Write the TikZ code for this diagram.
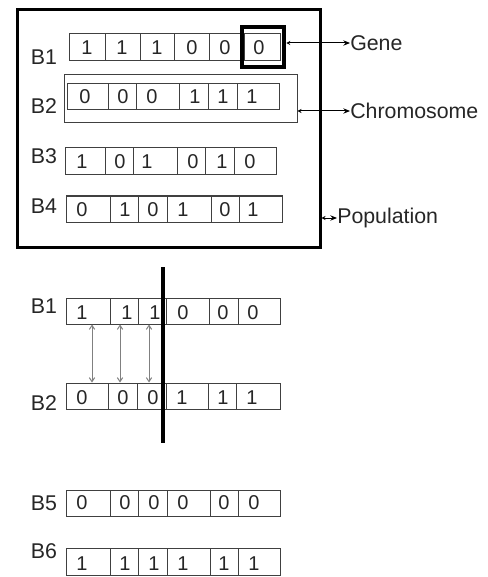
\documentclass[tikz,border=0pt]{standalone}
\usepackage{fontspec}
\setmainfont{Liberation Sans}
\usetikzlibrary{fit,arrows.meta}
\begin{document}
\begin{tikzpicture}[x=0.75pt,y=-0.75pt,
	rowbox/.style={draw=black!75,line width=0.75pt,inner sep=0pt},
	bit/.style={font=\fontsize{15}{17}\selectfont,text=black!85,inner sep=0pt},
	blab/.style={font=\fontsize{16}{18}\selectfont,text=black!85,inner sep=0pt},
	term/.style={font=\fontsize{16}{18}\selectfont,text=black!85,anchor=west,inner sep=0pt},
	callout/.style={line width=0.75pt,{Stealth[length=3pt,width=3pt]}-{Stealth[length=5pt,width=4pt]}},
	xover/.style={gray,line width=0.75pt,{Straight Barb[length=3pt,width=4pt]}-{Straight Barb[length=3pt,width=4pt]}}]
	\useasboundingbox (0,0) rectangle (487,577);
	% population and chromosome frames
	\node[draw,line width=2.25pt,inner sep=0pt,fit={(17,10) (320,247)}] (pop) {};
	\node[rowbox,fit={(64,75) (297,123)}] (chrom) {};
	% strings: name/label/label y/box/dividers/bits/bit y
	\foreach \r/\txt/\ly/\xa/\ya/\xb/\yb/\dv/\dg/\dy in {
		r1/B1/57/69/34/280/61/{105,140,174,209,244}/{87/1,122/1,157/1,192/0,225/0,259/0}/48,
		r2/B2/106/67/84/279/110/{108,136,179,208,237}/{85/0,123/0,152/0,195/1,223/1,252/1}/97,
		r3/B3/156/65/148/276/175/{105,133,177,205,234}/{82/1,120/0,147/1,193/0,222/1,250/0}/162,
		r4/B4/206/66/196/282/222/{110,138,167,211,239}/{82/0,125/1,153/0,183/1,225/0,253/1}/210,
		r5/B1/306/66/298/280/324/{110,138,166,209,238}/{82/1,127/1,155/1,183/0,223/0,253/0}/313,
		r6/B2/403/66/383/280/409/{108,137,166,208,236}/{82/0,123/0,153/0,182/1,223/1,252/1}/398,
		r7/B5/503/66/490/280/516/{110,138,167,210,238}/{82/0,125/0,154/0,183/0,224/0,254/0}/503,
		r8/B6/551/66/548/280/575/{110,138,167,210,238}/{82/1,125/1,154/1,183/1,224/1,254/1}/564}
	{
		\node[blab] (lab\r) at (44,\ly) {\txt};
		\node[rowbox,fit={(\xa,\ya) (\xb,\yb)}] (\r) {};
		\foreach \x in \dv
			\draw[black!75,line width=0.75pt] (\x,\ya) -- (\x,\yb);
		\foreach \dx/\d [count=\i] in \dg
			\node[bit] (\r d\i) at (\dx,\dy) {\d};
	}
	% gene marker
	\node[draw,line width=3.4pt,inner sep=0pt,fit={(242,27) (284,67)}] (gene) {};
	\node[term] (genet) at (350,43) {Gene};
	\node[term] (chromt) at (350,111) {Chromosome};
	\node[term] (popt) at (337,218) {Population};
	\draw[callout] (genet.west -| gene.east) -- (genet.west);
	\draw[callout] (chromt.west -| chrom.east) -- (chromt.west);
	\draw[callout] (popt.west -| pop.east) -- (popt.west);
	% crossover
	\draw[line width=3pt] (163,267) -- (163,443);
	\foreach \x [count=\i] in {92,120,149} {
		\coordinate (cx\i) at (\x,0);
		\draw[xover] (r5.south -| cx\i) -- (r6.north -| cx\i);
	}
\end{tikzpicture}
\end{document}
